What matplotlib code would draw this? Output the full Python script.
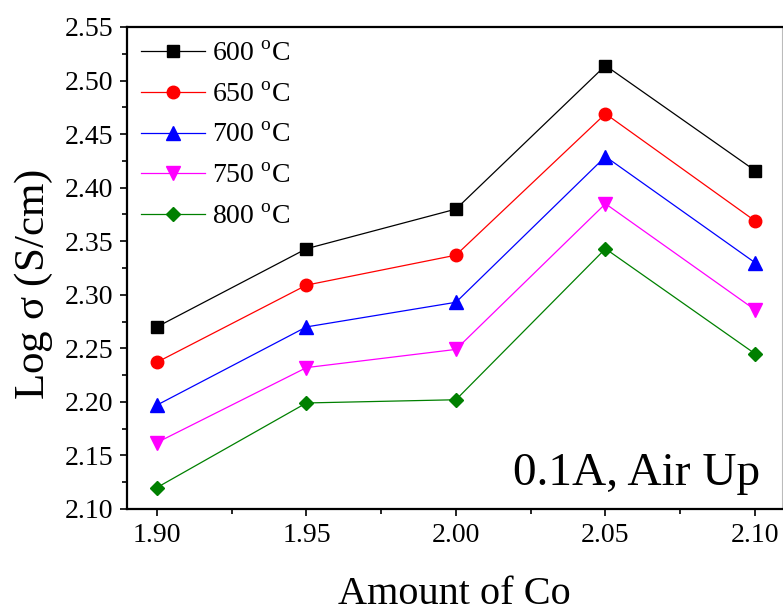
import numpy as np
import matplotlib.pyplot as plt
from matplotlib.ticker import MultipleLocator

plt.rcParams['font.family'] = ['Liberation Serif', 'DejaVu Serif']
plt.rcParams['mathtext.fontset'] = 'custom'
plt.rcParams['mathtext.rm'] = 'Liberation Serif'

# Co content and log conductivity at each sintering temperature
co_amount = [1.90, 1.95, 2.00, 2.05, 2.10]
temps = ['600', '650', '700', '750', '800']
log_sigma_600 = [2.270, 2.343, 2.380, 2.514, 2.416]
log_sigma_650 = [2.237, 2.309, 2.337, 2.469, 2.369]
log_sigma_700 = [2.197, 2.270, 2.293, 2.429, 2.330]
log_sigma_750 = [2.162, 2.232, 2.249, 2.385, 2.286]
log_sigma_800 = [2.120, 2.199, 2.202, 2.343, 2.245]

series = [log_sigma_600, log_sigma_650, log_sigma_700, log_sigma_750, log_sigma_800]
colors = ['black', 'red', 'blue', 'magenta', 'green']
markers = ['s', 'o', '^', 'v', 'D']
msizes = [8, 9, 10, 10, 7.5]

fig = plt.figure(figsize=(7.83, 6.13), dpi=100)
ax = fig.add_axes([127/783, 1 - 509/613, 655.5/783, 482/613])

for ys, t, c, m, ms in zip(series, temps, colors, markers, msizes):
    ax.plot(co_amount, ys, color=c, marker=m, markersize=ms, lw=0.9,
            label=t + r' $^{\rm o}$C')

ax.set_xlim(1.89, 2.1092)
ax.set_ylim(2.10, 2.55)
ax.xaxis.set_major_locator(MultipleLocator(0.05))
ax.xaxis.set_minor_locator(MultipleLocator(0.025))
ax.yaxis.set_major_locator(MultipleLocator(0.05))
ax.yaxis.set_minor_locator(MultipleLocator(0.025))
ax.xaxis.set_major_formatter(plt.FormatStrFormatter('%.2f'))
ax.yaxis.set_major_formatter(plt.FormatStrFormatter('%.2f'))

ax.tick_params(which='major', direction='out', length=5, width=1.2, labelsize=20)
ax.tick_params(which='minor', direction='out', length=3.5, width=1.2)
ax.tick_params(axis='x', which='major', pad=5)
ax.tick_params(axis='y', which='major', pad=5)
for s in ax.spines.values():
    s.set_linewidth(1.6)
# right edge of the frame sits on the border of the image
ax.spines['right'].set_linewidth(0.8)
ax.spines['right'].set_color('#bbbbbb')

ax.set_xlabel('Amount of Co', fontsize=29, labelpad=20)
ax.set_ylabel(r'Log $\mathrm{\sigma}$ (S/cm)', fontsize=31)
ax.yaxis.set_label_coords(-0.11, 0.465)

ax.text(0.9665, 0.05, '0.1A, Air Up', transform=ax.transAxes, fontsize=34,
        ha='right', va='baseline')

ax.legend(loc='upper left', frameon=False, fontsize=20, handlelength=2.3,
          handletextpad=0.25, labelspacing=0.55, borderpad=0.42,
          borderaxespad=0.1)

fig.savefig('out.png', dpi=100)
